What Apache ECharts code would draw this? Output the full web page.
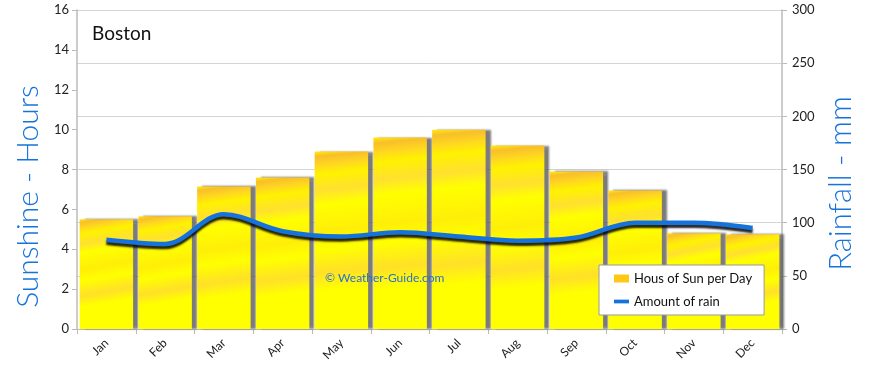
<!DOCTYPE html>
<html><head><meta charset="utf-8">
<script src="https://cdn.jsdelivr.net/npm/echarts@6/dist/echarts.min.js"></script>
<style>html,body{margin:0;padding:0;background:#fff}#c{width:870px;height:368px}</style>
</head><body><div id="c"></div>
<script>
var months = ['Jan','Feb','Mar','Apr','May','Jun','Jul','Aug','Sep','Oct','Nov','Dec'];
var sunHours = [5.5, 5.65, 7.15, 7.6, 8.9, 9.6, 10.0, 9.2, 7.9, 6.95, 4.8, 4.75];
var rainMm = [84, 80, 108, 92, 87, 91, 87, 83, 86, 100, 100, 95];
var sunTicks = [0, 16, 2];
var rainTicks = [0, 300, 50];

var FONT = 'Lato, "Open Sans", sans-serif';
var barGrad = new echarts.graphic.LinearGradient(0, 0, 0.35, 1, [
  {offset: 0, color: '#ffea10'},
  {offset: 0.03, color: '#f8bf2a'},
  {offset: 0.08, color: '#ffd820'},
  {offset: 0.13, color: '#fff200'},
  {offset: 0.22, color: '#ffe030'},
  {offset: 0.30, color: '#ffff00'},
  {offset: 0.45, color: '#ffee08'},
  {offset: 0.55, color: '#ffff00'},
  {offset: 0.68, color: '#ffe028'},
  {offset: 0.78, color: '#ffff00'},
  {offset: 1, color: '#ffff00'}
]);

var chart = echarts.init(document.getElementById('c'));
chart.setOption({
  animation: false,
  backgroundColor: '#fff',
  textStyle: {fontFamily: FONT},
  title: {text: 'Boston', left: 87, top: 19, textStyle: {fontFamily: FONT, fontSize: 19, fontWeight: 'normal', color: '#111'}},
  grid: {left: 77, right: 88, top: 10, bottom: 39},
  legend: {
    orient: 'vertical', left: 599, top: 265,
    backgroundColor: '#fff', borderColor: '#999', borderWidth: 1,
    padding: [7, 12, 7, 15], itemGap: 10, itemWidth: 15, itemHeight: 8,
    symbolKeepAspect: true,
    textStyle: {fontFamily: FONT, fontSize: 13, color: '#111'},
    data: [
      {name: 'Hous of Sun per Day', icon: 'rect', itemStyle: {color: '#ffc815', shadowBlur: 0, shadowOffsetX: 0}},
      {name: 'Amount of rain', icon: 'path://M0,0L40,0L40,10L0,10Z', itemStyle: {color: '#1673dc'}}
    ]
  },
  xAxis: {
    type: 'category', data: months,
    axisLine: {lineStyle: {color: '#bbb'}},
    axisTick: {show: true, length: 5, lineStyle: {color: '#bbb'}},
    axisLabel: {rotate: 45, fontSize: 12, color: '#222', margin: 12, fontFamily: FONT},
    splitLine: {show: false}
  },
  yAxis: [
    {
      type: 'value', min: sunTicks[0], max: sunTicks[1], interval: sunTicks[2],
      name: 'Sunshine - Hours', nameLocation: 'middle', nameGap: 34, nameRotate: 90,
      nameTextStyle: {fontSize: 30, fontWeight: 300, color: '#1673dc', fontFamily: FONT, padding: [0, 54, 0, 0]},
      axisLine: {show: true, lineStyle: {color: '#bbb', width: 1.5}},
      axisTick: {show: true, length: 5, lineStyle: {color: '#bbb'}},
      axisLabel: {fontSize: 13, color: '#222', margin: 8, fontFamily: FONT},
      splitLine: {show: false}
    },
    {
      type: 'value', min: rainTicks[0], max: rainTicks[1], interval: rainTicks[2],
      name: 'Rainfall - mm', nameLocation: 'middle', nameGap: 40, nameRotate: 90,
      nameTextStyle: {fontSize: 31, fontWeight: 300, color: '#1673dc', fontFamily: FONT, padding: [0, 28, 0, 0]},
      axisLine: {show: true, lineStyle: {color: '#bbb', width: 1.5}},
      axisTick: {show: true, length: 5, lineStyle: {color: '#bbb'}},
      axisLabel: {fontSize: 13, color: '#222', margin: 10, fontFamily: FONT},
      splitLine: {show: true, lineStyle: {color: '#d4d4d4', width: 1}}
    }
  ],
  graphic: [{
    type: 'text', left: 325, top: 272, z: 50,
    style: {text: '\u00a9 Weather-Guide.com', fill: '#2a6fd0', font: '12px ' + FONT}
  }],
  series: [
    {
      name: 'Hous of Sun per Day', type: 'bar', yAxisIndex: 0, data: sunHours,
      barWidth: '91%',
      itemStyle: {color: barGrad, shadowColor: 'rgba(90,90,90,0.8)', shadowBlur: 2, shadowOffsetX: 5, shadowOffsetY: 0}
    },
    {
      name: 'Amount of rain', type: 'line', yAxisIndex: 1, data: rainMm,
      smooth: 0.35, symbol: 'none', z: 10,
      itemStyle: {color: '#1673dc'},
      lineStyle: {color: '#1673dc', width: 4.5, shadowColor: 'rgba(0,0,0,0.85)', shadowBlur: 2, shadowOffsetY: 3}
    }
  ]
});
</script></body></html>
